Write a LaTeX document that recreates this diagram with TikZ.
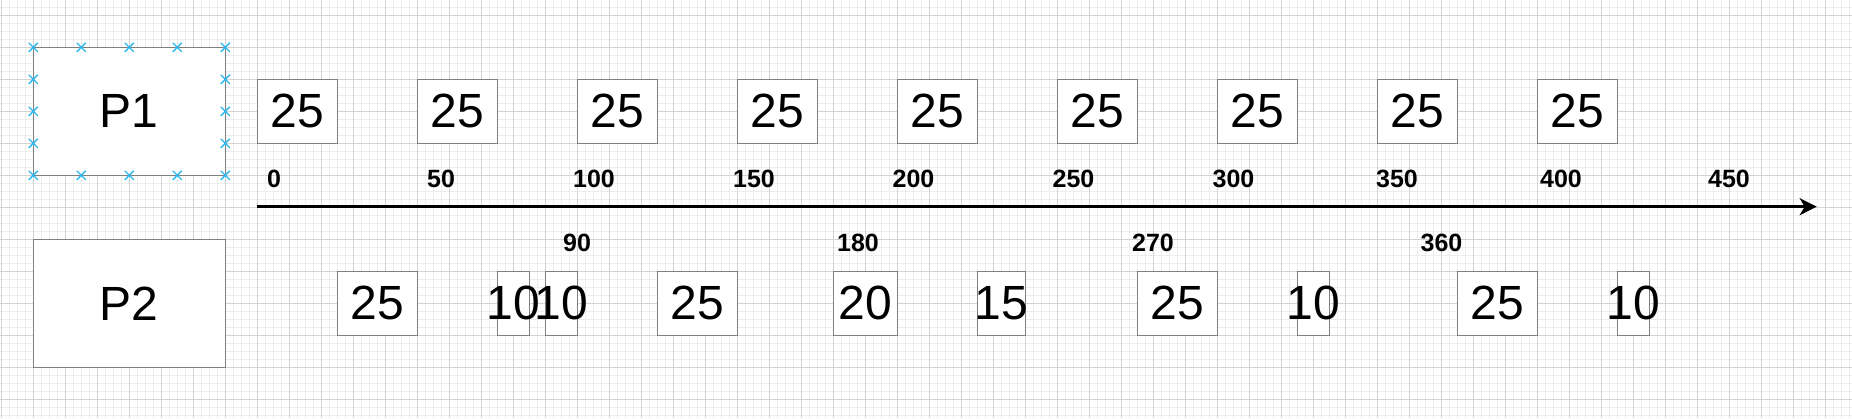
\documentclass[tikz,border=0pt]{standalone}
\usepackage{fontspec}
\setmainfont{Liberation Sans}
\usetikzlibrary{arrows.meta}
\definecolor{gridminor}{HTML}{EDEDED}
\definecolor{gridmajor}{HTML}{D3D3D3}
\definecolor{boxline}{HTML}{808080}
\definecolor{selblue}{HTML}{29B6F2}
\begin{document}
\begin{tikzpicture}[x=0.5pt,y=-0.5pt,
  minorgrid/.style={draw=gridminor,line width=0.5pt},
  majorgrid/.style={draw=gridmajor,line width=0.5pt},
  box/.style={draw=boxline,line width=0.6pt,fill=white,inner sep=0pt,minimum height=32pt,font=\fontsize{24pt}{24pt}\selectfont},
  boxtext/.style={inner sep=0pt,font=\fontsize{24pt}{24pt}\selectfont},
  pbox/.style={box,minimum width=96pt,minimum height=64pt},
  ticklabel/.style={font=\bfseries\fontsize{12.5pt}{12.5pt}\selectfont,inner sep=0pt},
  axisline/.style={line width=1.5pt,-{Stealth[length=8.5pt,width=8.5pt,inset=2.5pt]}},
  selmark/.style={draw=selblue,line width=0.7pt}]
\useasboundingbox (0,0) rectangle (1852,418);
\fill[white] (0,0) rectangle (1852,418);
% grid
\foreach \i in {0,...,231} \draw[minorgrid] ({1.3+8*\i},0) -- ({1.3+8*\i},418);
\foreach \j in {1,...,52} \draw[minorgrid] (0,{-0.7+8*\j}) -- (1852,{-0.7+8*\j});
\foreach \i in {0,...,57} \draw[majorgrid] ({1.3+32*\i},0) -- ({1.3+32*\i},418);
\foreach \j in {1,...,13} \draw[majorgrid] (0,{-16.7+32*\j}) -- (1852,{-16.7+32*\j});
% process boxes
\node[pbox] (p1) at (129.3,111.3) {P1};
\node[pbox] (p2) at (129.3,303.3) {P2};
\foreach \x in {33.3,81.3,129.3,177.3,225.3}
  \foreach \y in {47.3,175.3}
    \draw[selmark] ({\x-4.5},{\y-4.5}) -- ({\x+4.5},{\y+4.5}) ({\x-4.5},{\y+4.5}) -- ({\x+4.5},{\y-4.5});
\foreach \x in {33.3,225.3}
  \foreach \y in {79.3,111.3,143.3}
    \draw[selmark] ({\x-4.5},{\y-4.5}) -- ({\x+4.5},{\y+4.5}) ({\x-4.5},{\y+4.5}) -- ({\x+4.5},{\y-4.5});
% P1 bursts
\foreach \k in {0,...,8}
  \node[box,minimum width=40pt] (t\k) at ({297.3+160*\k},111.3) {25};
% P2 bursts (boxes first, then texts that may overflow)
\foreach \cx/\w [count=\n] in {377.3/40pt, 513.3/16pt, 561.3/16pt, 697.3/40pt, 865.3/32pt, 1001.3/24pt, 1177.3/40pt, 1313.3/16pt, 1497.3/40pt, 1633.3/16pt}
  \node[box,minimum width=\w] (b\n) at (\cx,303.3) {};
\foreach \txt [count=\n] in {25,10,10,25,20,15,25,10,25,10}
  \node[boxtext] (bt\n) at (b\n.center) {\txt};
% time axis
\coordinate (a0) at (257.3,206.7);
\coordinate (a1) at (1816.7,206.7);
\draw[axisline] (a0) -- (a1);
% top tick labels
\foreach \cx/\txt [count=\n] in {274/0, 441/50, 594/100, 754/150, 913.5/200, 1073.5/250, 1233.5/300, 1397/350, 1561/400, 1729/450}
  \node[ticklabel] (u\n) at (\cx,179) {\txt};
% bottom labels
\foreach \cx/\txt [count=\n] in {577/90, 858/180, 1153/270, 1441.5/360}
  \node[ticklabel] (l\n) at (\cx,242.8) {\txt};
\end{tikzpicture}
\end{document}
